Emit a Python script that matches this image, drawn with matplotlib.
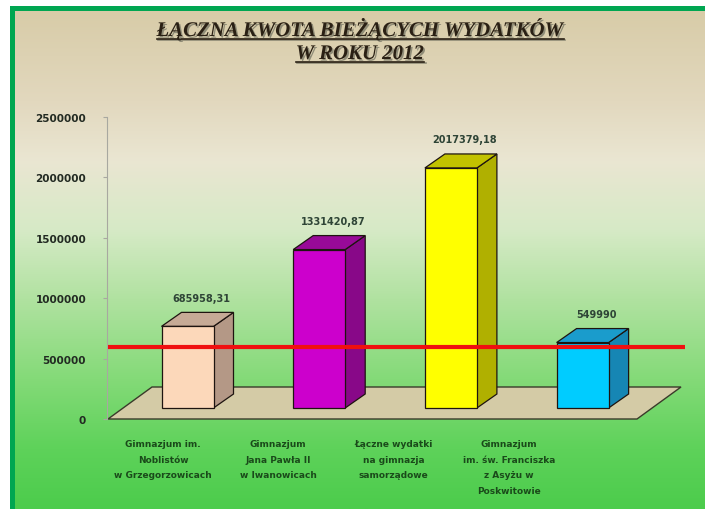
import numpy as np
import matplotlib
matplotlib.use('Agg')
import matplotlib.pyplot as plt
import matplotlib.patheffects as pe
from matplotlib.colors import LinearSegmentedColormap
from matplotlib.patches import Polygon, Rectangle
from matplotlib.lines import Line2D

# data
categories = ['Gimnazjum im.\nNoblistów\nw Grzegorzowicach',
              'Gimnazjum\nJana Pawła II\nw Iwanowicach',
              'Łączne wydatki\nna gimnazja\nsamorządowe',
              'Gimnazjum\nim. św. Franciszka\nz Asyżu w\nPoskwitowie']
values = [685958.31, 1331420.87, 2017379.18, 549990]
value_labels = ['685958,31', '1331420,87', '2017379,18', '549990']
red_level = 600000
yticks = [0, 500000, 1000000, 1500000, 2000000, 2500000]

front_colors = ['#FCD8BA', '#CC00CC', '#FFFF00', '#00CCFF']
top_colors = ['#C6AA96', '#980A98', '#C2C200', '#1A9CCC']
side_colors = ['#B49886', '#880888', '#B0B000', '#1686B4']

W, H = 705, 510
fig = plt.figure(figsize=(W / 100, H / 100), dpi=100)
fig.patch.set_facecolor('white')

# gradient background
stops = [(0.0, '#D8CCA8'), (0.18, '#E2D8BE'), (0.30, '#EAE6D2'),
         (0.44, '#D6EAC6'), (0.58, '#B0E2A0'), (0.74, '#84DA78'),
         (0.88, '#5ED25A'), (1.0, '#4CCC4C')]
cmap = LinearSegmentedColormap.from_list('bg', stops)
bg = fig.add_axes([15 / W, 0, 1 - 15 / W, 498 / H])
bg.imshow(np.linspace(0, 1, 256)[:, None], aspect='auto', cmap=cmap,
          extent=[0, 1, 0, 1])
bg.set_axis_off()

# green frame
fig.add_artist(Rectangle((10 / W, 0), 5 / W, 503 / H, transform=fig.transFigure,
                         color='#00A651', lw=0))
fig.add_artist(Rectangle((10 / W, 498 / H), 1, 5 / H, transform=fig.transFigure,
                         color='#00A651', lw=0))

# main axes, pixel geometry
px_x = 131.7          # px per category step
px_v = 60.4 / 500000  # px per value unit
x0 = 187.5            # px of first bar centre
left, right, bottom, top = 107, 690, 420, 118
ax = fig.add_axes([left / W, (H - bottom) / H, (right - left) / W, (bottom - top) / H])
ax.set_xlim((left - x0) / px_x, (right - x0) / px_x)
ax.set_ylim(0, 2500000)
ax.patch.set_alpha(0)

bw = 52 / px_x
ddx = 20 / px_x
ddy = 14 / px_v
base = 11 / px_v

# floor
fdx = 44 / px_x
fdy = 32 / px_v
fl, fr = (108 - x0) / px_x, (637 - x0) / px_x
ax.add_patch(Polygon([(fl, 0), (fr, 0), (fr + fdx, fdy), (fl + fdx, fdy)],
                     closed=True, fc='#D4CBA6', ec='#3A3A2A', lw=1.0,
                     zorder=1, clip_on=False))

# 3d bars
for i, v in enumerate(values):
    xl, xr = i - bw / 2, i + bw / 2
    b, t = base, base + v * 0.985
    front = [(xl, b), (xr, b), (xr, t), (xl, t)]
    side = [(xr, b), (xr + ddx, b + ddy), (xr + ddx, t + ddy), (xr, t)]
    topf = [(xl, t), (xr, t), (xr + ddx, t + ddy), (xl + ddx, t + ddy)]
    for pts, c in [(side, side_colors[i]), (topf, top_colors[i]), (front, front_colors[i])]:
        ax.add_patch(Polygon(pts, closed=True, fc=c, ec='#1E1410', lw=0.9,
                             zorder=2, clip_on=False))
    ax.annotate(value_labels[i], (i + ddx / 2 + 0.03, t + ddy), xytext=(0, 7),
                textcoords='offset points', ha='center', va='bottom',
                fontsize=7, fontweight='bold', color='#2E4436',
                family='DejaVu Sans')

# red reference line
ax.plot([fl, (685 - x0) / px_x], [red_level, red_level], color='#F01010',
        lw=3, zorder=4, solid_capstyle='butt', clip_on=False)

# axis styling
for s in ['top', 'right', 'bottom']:
    ax.spines[s].set_visible(False)
ax.spines['left'].set_color('#A8A8A0')
ax.spines['left'].set_linewidth(0.8)
ax.set_yticks(yticks)
ax.set_yticklabels([str(t) for t in yticks])
ax.tick_params(axis='y', length=3, color='#A8A8A0', pad=12, labelsize=7.5,
               labelcolor='#222A22')
for lab in ax.get_yticklabels():
    lab.set_fontweight('bold')
ax.set_xticks([])

# category labels (they sit on the floor front, a bit left of the bars)
for i, c in enumerate(categories):
    lx = (163 + i * 115.3 - x0) / px_x
    ax.text(lx, -20 / px_v, c, ha='center', va='top', fontsize=6.5,
            fontweight='bold', color='#1A4A1A', linespacing=1.95,
            family='DejaVu Sans', clip_on=False)

# title with underline and shadow
shadow = [pe.withSimplePatchShadow(offset=(1.2, -1.2), shadow_rgbFace='#707060', alpha=0.7)]
titles = [('ŁĄCZNA KWOTA BIEŻĄCYCH WYDATKÓW', 37), ('W ROKU 2012', 60)]
tobjs = []
for txt, yb in titles:
    t = fig.text(360 / W, 1 - yb / H, txt, ha='center', va='baseline',
                 family='Liberation Serif', style='italic', weight='bold',
                 fontsize=15, color='#2A2014', path_effects=shadow)
    tobjs.append((t, yb))
fig.canvas.draw()
r = fig.canvas.get_renderer()
for t, yb in tobjs:
    bb = t.get_window_extent(r)
    yy = 1 - (yb + 2.5) / H
    fig.add_artist(Line2D([bb.x0 / W, bb.x1 / W], [yy, yy], transform=fig.transFigure,
                          color='#2A2014', lw=1.2,
                          path_effects=[pe.SimpleLineShadow(offset=(1, -1), shadow_color='#707060', alpha=0.7), pe.Normal()]))

fig.savefig('out.png', dpi=100)
